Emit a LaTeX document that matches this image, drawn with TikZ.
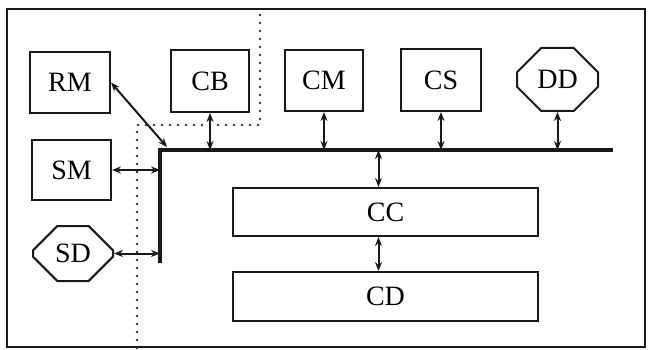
\documentclass[tikz,border=0pt]{standalone}
\usepackage{fontspec}
\setmainfont{Liberation Serif}
\usepackage{tikz}
\usetikzlibrary{shapes.misc, arrows.meta, positioning, calc}
\definecolor{mydark}{RGB}{25,25,25}
\definecolor{mydot}{RGB}{50,50,50}
\tikzset{
  unit/.style={rectangle, draw=mydark, fill=white, line width=2pt,
    font=\fontsize{28}{28}\selectfont, inner sep=0pt},
  octunit/.style={chamfered rectangle, chamfered rectangle xsep=19pt,
    chamfered rectangle ysep=15pt, draw=mydark, fill=white, line width=2pt,
    font=\fontsize{28}{28}\selectfont, inner sep=0pt},
  arrow/.style={{Stealth[length=9pt,width=7pt]}-{Stealth[length=9pt,width=7pt]},
    line width=2pt, color=mydark},
  bus/.style={line width=4pt, color=mydark},
  border/.style={line width=1.8pt, color=mydark},
  dotline/.style={mydot, line width=2.8pt, line cap=round,
    dash pattern=on 0pt off 8pt}
}
\begin{document}
\begin{tikzpicture}[x=1pt, y=-1pt]
  \useasboundingbox (0,0) rectangle (651,350);
  \draw[border] (7,9) rectangle (645,347);

  % separation line
  \draw[dotline] (260,15) -- (260,125) -- (137,125) -- (137,348);

  % bus
  \coordinate (busC) at (160,150);
  \coordinate (busE) at (613,150);
  \coordinate (busS) at (160,263);
  \draw[bus] (busS) -- (busC) -- (busE);

  % units
  \node[unit, minimum width=80pt, minimum height=61pt] (rm) at (70,82.5) {RM};
  \node[unit, minimum width=78pt, minimum height=62pt] (cb) at (210,81) {CB};
  \node[unit, minimum width=78pt, minimum height=61pt] (cm) at (324,80.5) {CM};
  \node[unit, minimum width=80pt, minimum height=62pt] (cs) at (441,80) {CS};
  \node[octunit, minimum width=81pt, minimum height=63pt] (dd) at (557.5,79.5) {DD};
  \node[unit, minimum width=79pt, minimum height=60pt] (sm) at (71.5,170) {SM};
  \node[octunit, minimum width=80pt, minimum height=55pt] (sd) at (73,253.5) {SD};
  \node[unit, minimum width=305pt, minimum height=48pt] (cc) at (385.5,212) {CC};
  \node[unit, minimum width=305pt, minimum height=49pt] (cd) at (385.5,296.5) {CD};

  % links to the bus
  \coordinate (rmEnd) at (167,147);
  \draw[arrow] (rm.east) -- (rmEnd);
  \draw[arrow] (cb.south) -- (cb.south |- busC);
  \draw[arrow] (cm.south) -- (cm.south |- busC);
  \draw[arrow] (cs.south) -- (cs.south |- busC);
  \draw[arrow] (dd.south) -- (dd.south |- busC);
  \draw[arrow] (sm.east) -- (sm.east -| busC);
  \draw[arrow] (sd.east) -- (sd.east -| busC);
  \draw[arrow] ([xshift=-7pt]cc.north) -- ([xshift=-7pt]cc.north |- busC);
  \draw[arrow] ([xshift=-7pt]cc.south) -- ([xshift=-7pt]cd.north);
\end{tikzpicture}
\end{document}
